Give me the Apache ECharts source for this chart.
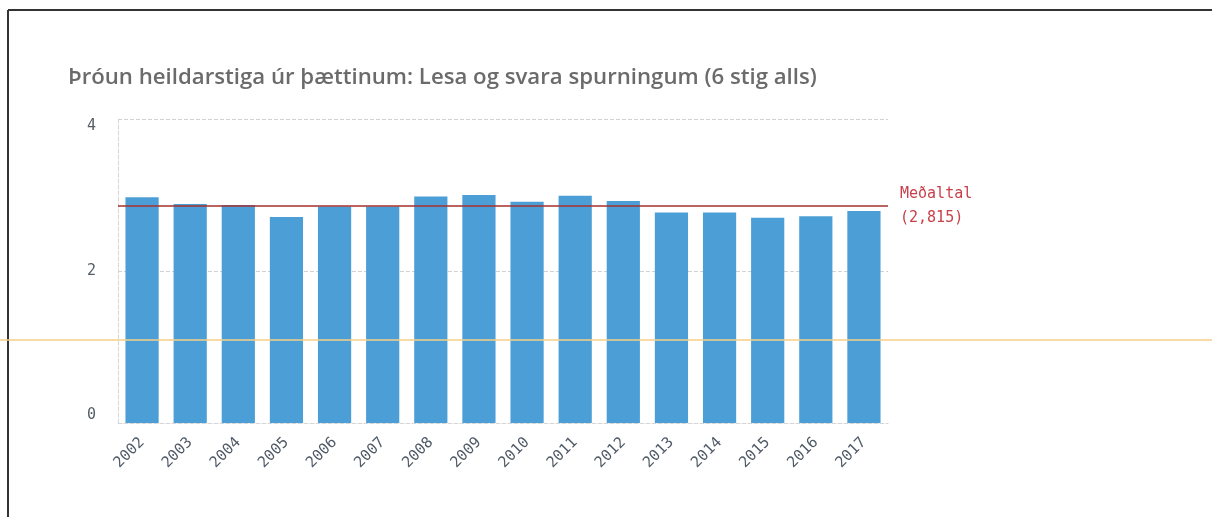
<!DOCTYPE html>
<html>
<head>
<meta charset="utf-8">
<script src="https://cdn.jsdelivr.net/npm/echarts@6/dist/echarts.min.js"></script>
<style>
html,body{margin:0;padding:0;background:#fff;}
#c{width:1212px;height:517px;}
</style>
</head>
<body>
<div id="c"></div>
<script>
const titleText = 'Þróun heildarstiga úr þættinum: Lesa og svara spurningum (6 stig alls)';
const years = ['2002','2003','2004','2005','2006','2007','2008','2009','2010','2011','2012','2013','2014','2015','2016','2017'];
const scores = [2.97, 2.88, 2.87, 2.71, 2.85, 2.85, 2.98, 3.00, 2.91, 2.99, 2.92, 2.77, 2.77, 2.70, 2.72, 2.79];
const meanLabel = ['Meðaltal', '(2,815)'];

const chart = echarts.init(document.getElementById('c'), null, {renderer: 'canvas'});
chart.setOption({
  animation: false,
  backgroundColor: '#ffffff',
  title: {
    text: titleText,
    left: 63,
    top: 62,
    textStyle: {fontFamily: 'Open Sans', fontWeight: 600, fontSize: 22.2, color: '#6b6b6b'}
  },
  grid: {left: 118, right: 324, top: 119, bottom: 94, containLabel: false},
  xAxis: {
    type: 'category',
    data: years,
    axisLine: {show: true, lineStyle: {color: '#d6d6d6', type: 'dashed'}},
    axisTick: {show: false},
    axisLabel: {rotate: 45, margin: 17, fontFamily: 'DejaVu Sans Mono', fontSize: 15, color: '#4f5a66'}
  },
  yAxis: {
    type: 'value',
    min: 0,
    max: 4,
    interval: 2,
    axisLine: {show: true, lineStyle: {color: '#d6d6d6', type: 'dashed'}},
    axisTick: {show: false},
    axisLabel: {
      margin: 22, fontFamily: 'DejaVu Sans Mono', fontSize: 15, color: '#555e66',
      verticalAlignMaxLabel: 'top',
      verticalAlignMinLabel: 'bottom'
    },
    splitLine: {show: true, lineStyle: {color: '#d2d2d2', type: 'dashed'}}
  },
  series: [{
    type: 'bar',
    data: scores,
    barCategoryGap: '31%',
    itemStyle: {color: '#4b9fd6'},
    markLine: {
      silent: true,
      symbol: 'none',
      data: [{type: 'average'}],
      lineStyle: {color: '#a3302e', width: 1.5, type: 'solid'},
      label: {
        position: 'end',
        distance: 12,
        formatter: meanLabel.join('\n'),
        fontFamily: 'DejaVu Sans Mono',
        fontSize: 15,
        lineHeight: 24,
        color: '#c8404a',
        align: 'left'
      }
    }
  }],
  graphic: [
    {type: 'line', shape: {x1: 8, y1: 10, x2: 1212, y2: 10}, style: {stroke: '#333', lineWidth: 2}},
    {type: 'line', shape: {x1: 8, y1: 10, x2: 8, y2: 517}, style: {stroke: '#333', lineWidth: 2}},
    {type: 'line', shape: {x1: 0, y1: 340, x2: 1212, y2: 340}, style: {stroke: '#f6cf86', lineWidth: 1.5}, z: 100}
  ]
});
</script>
</body>
</html>
